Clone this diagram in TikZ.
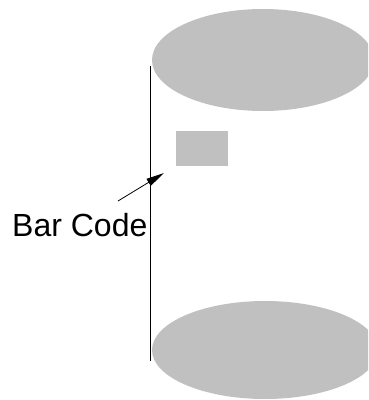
\documentclass[tikz,border=0pt]{standalone}
\usepackage{fontspec}
\setmainfont{Liberation Sans}
\usetikzlibrary{arrows.meta}
\definecolor{shade}{HTML}{C0C0C0}
\tikzset{
  disk/.style={fill=shade, draw=none},
  label text/.style={font=\fontsize{32}{36}\selectfont, inner sep=0pt, anchor=base west},
  pointer/.style={line width=0.8pt, -{Triangle[length=18pt,width=8pt]}}
}
\begin{document}
\begin{tikzpicture}[x=1pt,y=-1pt]
\useasboundingbox (0,0) rectangle (368,400);
\clip (0,0) rectangle (368,400);
% top ellipse
\fill[disk] (263,60) ellipse [x radius=111, y radius=51];
% bottom ellipse
\fill[disk] (265,350) ellipse [x radius=113, y radius=49];
% vertical line
\coordinate (vtop) at (150,66);
\coordinate (vbot) at (150,361);
\draw[line width=1pt] (vtop) -- (vbot);
% bar code rectangle
\fill[disk] (176,131) rectangle (228,166);
% label
\node[label text] (lbl) at (12,236) {Bar Code};
\coordinate (astart) at (118,201);
\coordinate (aend) at (164,173);
\draw[pointer] (astart) -- (aend);
\end{tikzpicture}
\end{document}
